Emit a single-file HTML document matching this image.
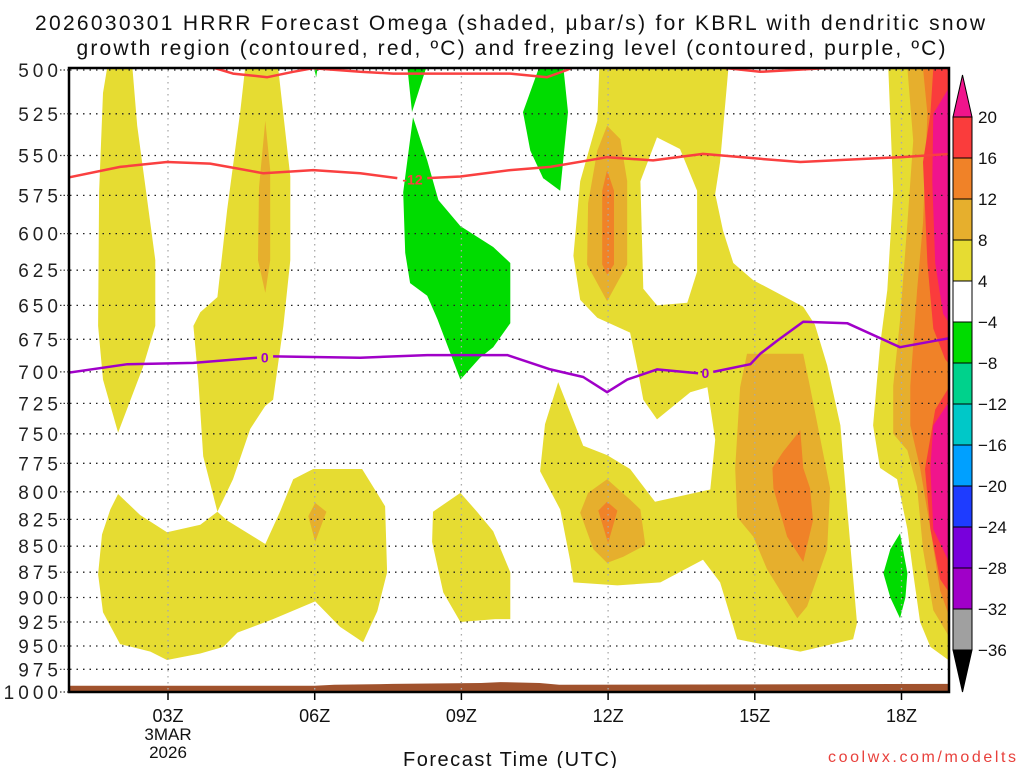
<!DOCTYPE html>
<html><head><meta charset="utf-8"><style>
body{margin:0;background:#fff;}
svg{display:block;font-family:"Liberation Sans",sans-serif;}
</style></head><body>
<svg id="chart" width="1024" height="768" viewBox="0 0 1024 768" xmlns="http://www.w3.org/2000/svg">
<rect x="0" y="0" width="1024" height="768" fill="#fff"/>
<text x="510" y="30" text-anchor="middle" font-size="21" textLength="950" lengthAdjust="spacing" fill="#111">2026030301 HRRR Forecast Omega (shaded, μbar/s) for KBRL with dendritic snow</text>
<text x="511" y="55" text-anchor="middle" font-size="21" textLength="869" lengthAdjust="spacing" fill="#111">growth region (contoured, red, ºC) and freezing level (contoured, purple, ºC)</text>
<defs><clipPath id="plotclip"><rect x="69" y="68" width="880" height="624"/></clipPath></defs>
<g id="fills" clip-path="url(#plotclip)"></g>
<g id="grid"></g>
<g id="lines" clip-path="url(#plotclip)"></g>
<rect x="69" y="68" width="880" height="624" fill="none" stroke="#000" stroke-width="2.5"/>
<g id="axes"></g>
<g id="cbar"></g>
<text x="510" y="766" text-anchor="middle" font-size="20" textLength="214" lengthAdjust="spacing" fill="#111">Forecast Time (UTC)</text>
<text x="922" y="762" text-anchor="middle" font-size="16" textLength="188" lengthAdjust="spacing" fill="#e8413c">coolwx.com/modelts</text>
</svg>
<script>
// ---- data (hour UTC, pressure hPa) ----
const pLevels=[500,525,550,575,600,625,650,675,700,725,750,775,800,825,850,875,900,925,950,975,1000];
const xTickHours=[3,6,9,12,15,18];
const xTickLabels=["03Z","06Z","09Z","12Z","15Z","18Z"];
const cbarLevels=[20,16,12,8,4,-4,-8,-12,-16,-20,-24,-28,-32,-36];
const cbarColors=["#fa3c3c","#f08228","#e6af2d","#e6dc32","#ffffff","#00dc00","#00d28c","#00c8c8","#00a0ff","#1e3cff","#7800dc","#a000c8","#a0a0a0"];
const C4="#e6dc32",C8="#e6af2d",C12="#f08228",C16="#fa3c3c",C20="#f0148c",CG="#00dc00",CW="#ffffff";
const shapeA=[[1.76,498],[2.27,498],[2.37,532],[2.74,618],[2.74,665],[2.49,696],[2.39,706],[1.98,749],[1.67,706],[1.57,665],[1.59,573],[1.67,513]];
const shapeB1=[[4.58,498],[5.25,498],[5.50,563],[5.50,618],[5.36,665],[5.15,722],[4.99,727],[4.68,746],[4.33,789],[4.01,818],[3.72,769],[3.62,706],[3.52,665],[3.66,655],[4.01,644],[4.21,584],[4.48,523]];
const shapeB1o=[[4.99,529],[5.09,559],[5.09,618],[4.99,641],[4.84,618],[4.86,570]];
const shapeB2=[[1.98,802],[2.43,821],[2.98,837],[3.66,830],[4.01,818],[4.21,826],[4.99,848],[5.29,818],[5.56,789],[5.97,780],[6.97,780],[7.44,813],[7.48,875],[7.28,914],[6.99,946],[6.52,930],[6.01,904],[5.15,922],[4.42,936],[4.13,951],[3.66,958],[2.98,965],[2.64,956],[2.02,948],[1.67,915],[1.57,877],[1.65,839],[1.82,816]];
const shapeB2o=[[6.01,810],[6.24,818],[6.01,846],[5.87,822]];
const shapeC=[[8.98,801],[9.32,818],[9.65,836],[10.0,875],[10.0,922],[9.69,922],[8.98,925],[8.63,895],[8.40,846],[8.42,818]];
const shapeD=[[11.82,499],[14.46,499],[14.29,554],[14.19,574],[14.35,598],[14.56,620],[14.97,632],[15.46,641],[15.99,651],[16.23,664],[16.48,695],[16.75,743],[16.89,815],[17.09,926],[17.01,943],[15.93,956],[14.64,943],[14.44,909],[14.29,885],[13.94,863],[13.07,885],[12.19,888],[11.29,885],[11.22,863],[11.02,816],[10.61,782],[10.71,742],[10.98,708],[11.22,732],[11.49,760],[11.98,768],[12.45,780],[12.96,809],[14.09,798],[14.19,755],[14.03,712],[13.68,716],[13.00,738],[12.72,722],[12.60,697],[12.45,670],[11.78,659],[11.43,646],[11.29,615],[11.43,566],[11.78,529]];
const shapeHole=[[13.0,539],[13.47,546],[13.82,572],[13.82,626],[13.62,648],[13.0,650],[12.72,638],[12.66,566]];
const shapeDg1=[[11.98,532],[12.25,540],[12.39,566],[12.39,621],[11.98,647],[11.57,621],[11.59,580],[11.78,547]];
const shapeDo1=[[11.98,559],[12.12,572],[12.12,621],[11.98,628],[11.88,621],[11.88,572]];
const shapeDg2=[[11.98,789],[12.45,807],[12.66,816],[12.76,849],[12.31,860],[11.98,866],[11.70,853],[11.43,819],[11.59,801]];
const shapeDo2=[[11.98,809],[12.19,817],[12.00,847],[11.80,817]];
const shapeEg=[[14.84,686],[15.99,686],[16.13,712],[16.54,797],[16.48,853],[16.07,909],[15.87,921],[15.25,872],[14.97,841],[14.64,823],[14.60,779],[14.70,712]];
const shapeEo=[[15.58,765],[15.93,747],[15.99,779],[16.13,797],[16.19,826],[15.99,865],[15.66,841],[15.38,797],[15.36,779]];
const shapeRy=[[17.73,499],[17.83,572],[17.71,639],[17.56,680],[17.42,743],[17.56,779],[17.91,789],[18.12,834],[18.24,876],[18.38,925],[18.59,951],[18.96,965],[19.1,974],[19.1,499]];
const shapeRg=[[18.12,499],[18.24,541],[18.12,593],[17.97,661],[17.83,711],[17.83,750],[18.12,764],[18.32,796],[18.44,853],[18.65,913],[18.96,939],[19.1,940],[19.1,499]];
const shapeRo=[[18.44,499],[18.53,525],[18.44,593],[18.32,639],[18.18,711],[18.18,743],[18.38,779],[18.59,834],[18.79,893],[18.96,917],[19.1,918],[19.1,499]];
const shapeRr1=[[18.65,499],[18.59,525],[18.44,554],[18.53,620],[18.65,667],[18.89,690],[19.1,700],[19.1,499]];
const shapeRr2=[[19.1,704],[18.69,730],[18.48,780],[18.59,834],[18.79,882],[19.1,904]];
const shapeRm1=[[19.1,504],[18.65,525],[18.63,566],[18.69,620],[18.85,656],[19.1,670]];
const shapeRm2=[[19.1,716],[18.65,743],[18.59,779],[18.65,834],[19.1,878]];
const shapeGr18=[[17.97,838],[18.12,876],[18.08,900],[17.97,921],[17.77,900],[17.63,876],[17.77,853]];
const shapeG1a=[[7.89,497],[8.30,497],[7.99,524]];
const shapeG1=[[8.01,527],[8.30,553],[8.53,578],[8.98,595],[9.65,609],[10.0,620],[10.0,663],[9.65,681],[9.38,689],[8.98,706],[8.51,660],[8.30,643],[7.95,634],[7.85,613],[7.81,573]];
const shapeG2=[[10.61,497],[11.08,497],[11.18,524],[11.02,572],[10.67,564],[10.41,547],[10.26,524]];
const shapeG3=[[5.97,497],[6.07,497],[6.03,504]];
const sfcHours=[0.9,6.0,6.4,7.6,9.4,9.8,10.6,11.0,19.1];
const sfcP=[993,993,992,991,990,989,990,992,991];
const red1=[[3.72,497],[4.33,502],[5.03,504],[5.56,501],[5.97,499],[6.93,501],[7.61,502],[8.98,502],[10.0,502],[10.75,504],[11.16,500],[11.37,497]];
const red2=[[13.74,497],[15.11,501],[17.09,498]];
const red12a=[[0.9,564],[2.02,557],[2.98,554],[3.86,555],[4.42,558],[4.95,561],[5.97,559],[6.93,561],[7.69,564]];
const red12b=[[8.30,564],[8.98,563],[10.0,559],[10.82,557],[11.98,551],[12.92,553],[13.94,549],[15.11,552],[15.93,554],[17.97,551],[19.0,549]];
const red12Label=[8.0,565];
const purpA=[[0.9,701],[2.17,694],[3.52,693],[4.82,689]];
const purpB=[[5.15,688],[6.93,689],[8.30,687],[8.98,687],[9.94,687],[10.82,698],[11.49,704],[11.98,716],[12.39,706],[13.0,698],[13.84,701]];
const purpC=[[14.15,700],[14.91,694],[15.11,686],[15.46,676],[15.99,662],[16.89,663],[17.97,681],[19.0,674]];
const purpLabels=[[4.98,689],[13.99,701]];

// ---- axes ----
const X0=168,PXH=48.9,Y0=70,YSPAN=622;
function xs(h){return X0+(h-3)*PXH;}
function ys(p){return Y0+Math.log(p/500)/Math.LN2*YSPAN;}
const NS="http://www.w3.org/2000/svg";
function mk(tag,parent){const e=document.createElementNS(NS,tag);parent.appendChild(e);return e;}
const fills=document.getElementById('fills');
function poly(pts,color,name){
  const e=mk('polygon',fills);
  e.setAttribute('points',pts.map(q=>xs(q[0]).toFixed(1)+','+ys(q[1]).toFixed(1)).join(' '));
  e.setAttribute('fill',color);
  
  
}
poly(shapeA,C4,'omega-4-8-area');
poly(shapeB1,C4,'omega-4-8-area');
poly(shapeB2,C4,'omega-4-8-area');
poly(shapeC,C4,'omega-4-8-area');
poly(shapeD,C4,'omega-4-8-area');
poly(shapeRy,C4,'omega-4-8-area');
poly(shapeHole,CW,'omega-neutral-area');
poly(shapeB1o,C8,'omega-8-12-area');
poly(shapeB2o,C8,'omega-8-12-area');
poly(shapeDg1,C8,'omega-8-12-area');
poly(shapeDo1,C12,'omega-12-16-area');
poly(shapeDg2,C8,'omega-8-12-area');
poly(shapeDo2,C12,'omega-12-16-area');
poly(shapeEg,C8,'omega-8-12-area');
poly(shapeEo,C12,'omega-12-16-area');
poly(shapeRg,C8,'omega-8-12-area');
poly(shapeRo,C12,'omega-12-16-area');
poly(shapeRr1,C16,'omega-16-20-area');
poly(shapeRr2,C16,'omega-16-20-area');
poly(shapeRm1,C20,'omega-over-20-area');
poly(shapeRm2,C20,'omega-over-20-area');
poly(shapeGr18,CG,'omega-neg4-neg8-area');
poly(shapeG1a,CG,'omega-neg4-neg8-area');
poly(shapeG1,CG,'omega-neg4-neg8-area');
poly(shapeG2,CG,'omega-neg4-neg8-area');
poly(shapeG3,CG,'omega-neg4-neg8-area');
// ground
{
  const pts=sfcHours.map((h,i)=>[h,sfcP[i]]);
  pts.push([19.1,1010],[0.9,1010]);
  poly(pts,'#a0522d','ground-surface');
}
// grid
const grid=document.getElementById('grid');
pLevels.forEach(p=>{
  const l=mk('line',grid);
  l.setAttribute('x1',70);l.setAttribute('x2',948);
  l.setAttribute('y1',ys(p).toFixed(1));l.setAttribute('y2',ys(p).toFixed(1));
  l.setAttribute('stroke','#222');l.setAttribute('stroke-width','1.3');l.setAttribute('stroke-dasharray','1.5 5');
  
  
});
xTickHours.forEach(h=>{
  const l=mk('line',grid);
  l.setAttribute('x1',xs(h).toFixed(1));l.setAttribute('x2',xs(h).toFixed(1));
  l.setAttribute('y1',70);l.setAttribute('y2',692);
  l.setAttribute('stroke','#aaa');l.setAttribute('stroke-width','1.3');l.setAttribute('stroke-dasharray','1.5 4.5');
  
  
});
// contours
const lines=document.getElementById('lines');
function pl(pts,color,name){
  const e=mk('polyline',lines);
  e.setAttribute('points',pts.map(q=>xs(q[0]).toFixed(1)+','+ys(q[1]).toFixed(1)).join(' '));
  e.setAttribute('fill','none');e.setAttribute('stroke',color);e.setAttribute('stroke-width','2.5');
  e.setAttribute('stroke-linejoin','round');
  
  
}
function lbl(pt,txt,color,name){
  const t=mk('text',lines);
  t.setAttribute('x',xs(pt[0]).toFixed(1));t.setAttribute('y',(ys(pt[1])+5).toFixed(1));
  t.setAttribute('text-anchor','middle');t.setAttribute('font-size','14');t.setAttribute('font-weight','bold');
  t.setAttribute('fill',color);t.textContent=txt;
  
  
}
pl(red1,'#fa4040','dgz-contour-top');
pl(red2,'#fa4040','dgz-contour-top');
pl(red12a,'#fa4040','dgz-contour-minus12');
pl(red12b,'#fa4040','dgz-contour-minus12');
lbl(red12Label,'-12','#fa4040','dgz-contour-label');
pl(purpA,'#a000c8','freezing-level-contour');
pl(purpB,'#a000c8','freezing-level-contour');
pl(purpC,'#a000c8','freezing-level-contour');
purpLabels.forEach(pt=>lbl(pt,'0','#a000c8','freezing-level-label'));
// axes labels
const axes=document.getElementById('axes');
pLevels.forEach(p=>{
  const t=mk('text',axes);
  const s=String(p);
  t.setAttribute('x',58);t.setAttribute('y',(ys(p)+7).toFixed(1));
  t.setAttribute('text-anchor','end');t.setAttribute('font-size','19');t.setAttribute('fill','#222');
  t.setAttribute('textLength',s.length*14.6-4);t.setAttribute('lengthAdjust','spacing');
  t.textContent=s;
  
  
  const l=mk('line',axes);
  l.setAttribute('x1',60);l.setAttribute('x2',69);l.setAttribute('y1',ys(p).toFixed(1));l.setAttribute('y2',ys(p).toFixed(1));
  l.setAttribute('stroke','#333');l.setAttribute('stroke-width','1.2');l.setAttribute('stroke-dasharray','1.5 2');
  
  
});
xTickHours.forEach((h,i)=>{
  const l=mk('line',axes);
  l.setAttribute('x1',xs(h).toFixed(1));l.setAttribute('x2',xs(h).toFixed(1));l.setAttribute('y1',693);l.setAttribute('y2',700);
  l.setAttribute('stroke','#000');l.setAttribute('stroke-width','1.5');
  
  
  const t=mk('text',axes);
  t.setAttribute('x',xs(h).toFixed(1));t.setAttribute('y',722);t.setAttribute('text-anchor','middle');
  t.setAttribute('font-size','18');t.setAttribute('fill','#111');
  t.textContent=xTickLabels[i];
  
  
});
{
  const t1=mk('text',axes);
  t1.setAttribute('x',xs(3).toFixed(1));t1.setAttribute('y',740);t1.setAttribute('text-anchor','middle');t1.setAttribute('font-size','17');t1.setAttribute('fill','#111');
  t1.textContent='3MAR';
  
  
  const t2=mk('text',axes);
  t2.setAttribute('x',xs(3).toFixed(1));t2.setAttribute('y',758);t2.setAttribute('text-anchor','middle');t2.setAttribute('font-size','17');t2.setAttribute('fill','#111');
  t2.textContent='2026';
  
  
}
// colorbar
const cbar=document.getElementById('cbar');
const CBX=953,CBW=19,CBT=117,CBS=41;
{
  const top=mk('polygon',cbar);
  top.setAttribute('points',`${CBX},${CBT} ${CBX+CBW},${CBT} ${CBX+CBW/2},${CBT-42}`);
  top.setAttribute('fill',C20);top.setAttribute('stroke','#000');top.setAttribute('stroke-width','1');
  
  
}
cbarColors.forEach((c,i)=>{
  const r=mk('rect',cbar);
  r.setAttribute('x',CBX);r.setAttribute('y',CBT+i*CBS);r.setAttribute('width',CBW);r.setAttribute('height',CBS);
  r.setAttribute('fill',c);r.setAttribute('stroke','#000');r.setAttribute('stroke-width','1');
  
  
});
{
  const yb=CBT+cbarColors.length*CBS;
  const bot=mk('polygon',cbar);
  bot.setAttribute('points',`${CBX},${yb} ${CBX+CBW},${yb} ${CBX+CBW/2},${yb+42}`);
  bot.setAttribute('fill','#000');bot.setAttribute('stroke','#000');bot.setAttribute('stroke-width','1');
  
  
}
cbarLevels.forEach((v,i)=>{
  const t=mk('text',cbar);
  const s=v<0?'\u2212'+Math.abs(v):String(v);
  t.setAttribute('x',978);t.setAttribute('y',CBT+i*CBS+6);t.setAttribute('font-size','17');t.setAttribute('fill','#111');
  t.textContent=s;
  
  
});
</script>
</body></html>
